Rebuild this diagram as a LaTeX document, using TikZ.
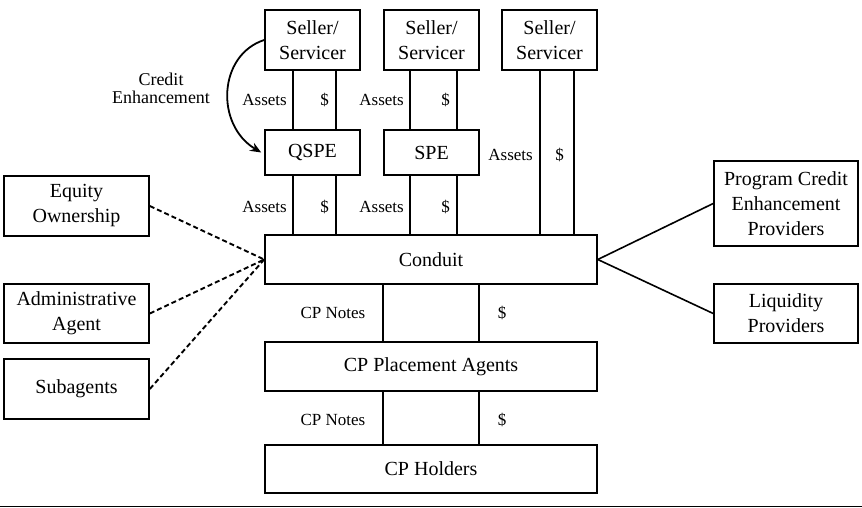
\documentclass[tikz,border=0pt]{standalone}
\usepackage{fontspec}
\setmainfont{Liberation Serif}
\usetikzlibrary{arrows.meta}
\begin{document}
\begin{tikzpicture}[x=1pt,y=-1pt,
  box/.style={draw, line width=1.6pt, inner sep=0pt, align=center,
    font=\fontsize{20}{25}\selectfont},
  lbl/.style={inner sep=0pt, font=\fontsize{17}{18}\selectfont},
  flow/.style={line width=1.6pt},
  tie/.style={line width=1.9pt, dash pattern=on 5pt off 3pt},
  link/.style={line width=1.6pt}]
\useasboundingbox (0,0) rectangle (862,508);

% sellers / servicers
\node[box, minimum width=95pt, minimum height=60pt] (s1) at (312.5,40) {Seller/\\Servicer};
\node[box, minimum width=95pt, minimum height=60pt] (s2) at (431.5,40) {Seller/\\Servicer};
\node[box, minimum width=95pt, minimum height=60pt] (s3) at (549.5,40) {Seller/\\Servicer};

% special purpose entities
\node[box, minimum width=95pt, minimum height=45pt] (q) at (312.5,152.5) {QSPE};
\node[box, minimum width=95pt, minimum height=45pt] (p) at (431.5,152.5) {SPE};

% conduit and commercial paper chain
\node[box, minimum width=332pt, minimum height=49pt] (c) at (431,259.5) {Conduit};
\node[box, minimum width=332pt, minimum height=49pt] (pa) at (431,366.5) {CP Placement Agents};
\node[box, minimum width=332pt, minimum height=48pt] (h) at (431,469) {CP Holders};

% parties on the left
\node[box, minimum width=145pt, minimum height=60pt] (eq) at (76.5,206) {Equity\\Ownership};
\node[box, minimum width=145pt, minimum height=59pt] (ad) at (76.5,313.5) {Administrative\\Agent};
\node[box, minimum width=145pt, minimum height=60pt] (sa) at (76.5,389) {Subagents};

% parties on the right
\node[box, minimum width=144pt, minimum height=85pt] (pc) at (786,203.5) {Program Credit\\Enhancement\\Providers};
\node[box, minimum width=144pt, minimum height=59pt] (lq) at (786,313.5) {Liquidity\\Providers};

% asset and cash flows
\foreach \a/\b/\x in {s1/q/293, s1/q/336, s2/p/410, s2/p/457,
                      q/c/293, q/c/336, p/c/410, p/c/457,
                      s3/c/540, s3/c/574,
                      c/pa/383, c/pa/479, pa/h/383, pa/h/479}
  \draw[flow] (\a.south -| \x,0) -- (\b.north -| \x,0);

\node[lbl, anchor=east] (la1) at (287,100) {Assets};
\node[lbl, anchor=east] (ld1) at (329,100) {\$};
\node[lbl, anchor=east] (la2) at (404,100) {Assets};
\node[lbl, anchor=east] (ld2) at (450,100) {\$};
\node[lbl, anchor=east] (la3) at (287,207) {Assets};
\node[lbl, anchor=east] (ld3) at (329,207) {\$};
\node[lbl, anchor=east] (la4) at (404,207) {Assets};
\node[lbl, anchor=east] (ld4) at (450,207) {\$};
\node[lbl, anchor=east] (la5) at (533,155) {Assets};
\node[lbl, anchor=east] (ld5) at (564,155) {\$};

\node[lbl] (n1) at (333,313) {CP Notes};
\node[lbl] (d1) at (502,313) {\$};
\node[lbl] (n2) at (333,420) {CP Notes};
\node[lbl] (d2) at (502,420) {\$};

% credit enhancement from the seller to the QSPE
\node[lbl, align=center, font=\fontsize{18}{18}\selectfont] (ce) at (161,88) {Credit\\Enhancement};
\draw[line width=1.8pt, -{Stealth[length=11pt,width=9pt]}]
  (s1.west) .. controls (218,55) and (215,125) .. ([xshift=-3pt]q.west);

% administrative relationships
\draw[tie] (eq.east) -- (c.west);
\draw[tie] (ad.east) -- (c.west);
\draw[tie] (sa.east) -- (c.west);

% program support
\draw[link] (c.east) -- (pc.west);
\draw[link] (c.east) -- (lq.west);

% rule under the figure
\coordinate (r0) at (0,506.5);
\coordinate (r1) at (862,506.5);
\draw[line width=1.4pt] (r0) -- (r1);
\end{tikzpicture}
\end{document}
